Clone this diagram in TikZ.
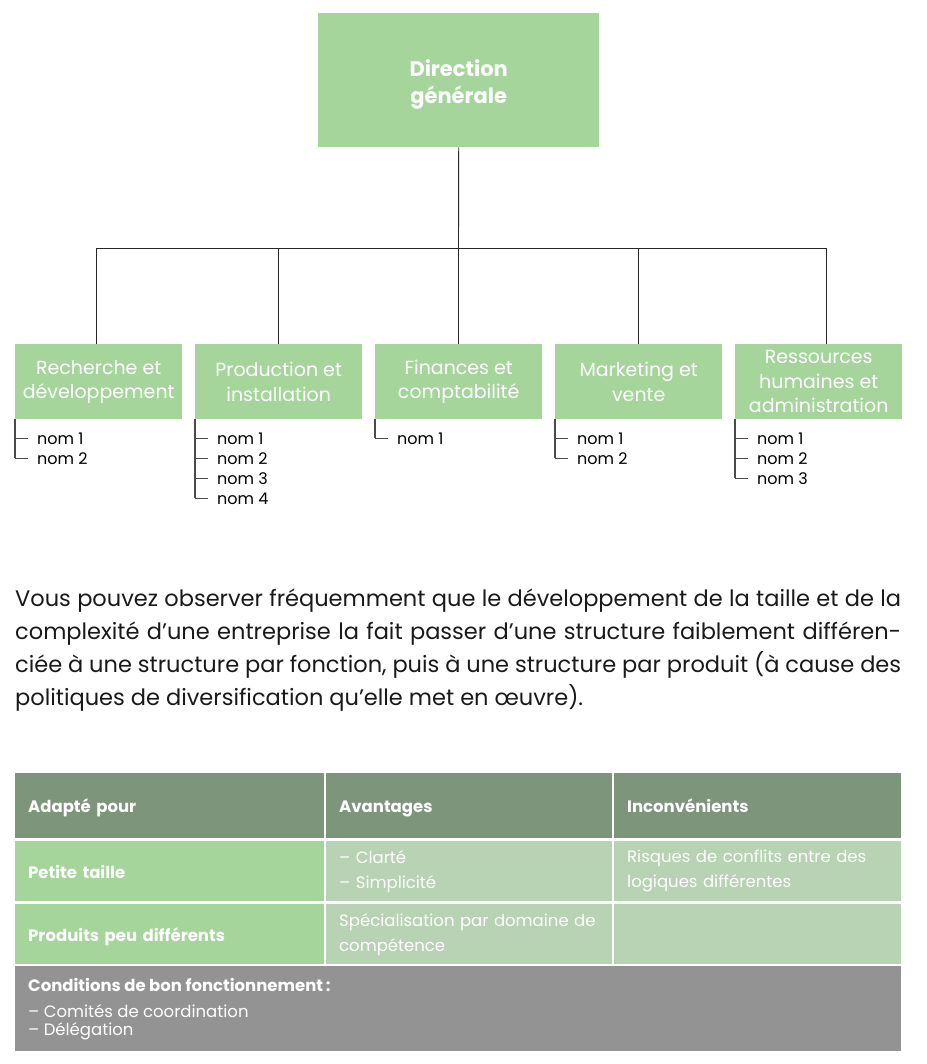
\documentclass[tikz,border=0pt]{standalone}
\usepackage{fontspec}
\usetikzlibrary{calc}
\setmainfont{Poppins}
\definecolor{boxgreen}{HTML}{A5D59B}
\definecolor{headgreen}{HTML}{7D967B}
\definecolor{lightgreen}{HTML}{B8D3B4}
\definecolor{condgray}{HTML}{939393}
\definecolor{linegray}{HTML}{4A4A4A}
\begin{document}
\begin{tikzpicture}[x=1pt,y=-1pt,
  orgbox/.style={fill=boxgreen,text=white,align=center,inner sep=0pt,
    minimum width=167pt,minimum height=75pt,anchor=north west,
    font=\fontsize{19}{24.5}\selectfont},
  topbox/.style={fill=boxgreen,inner sep=0pt,
    minimum width=281pt,minimum height=134pt,anchor=north west},
  toptext/.style={text=white,align=center,inner sep=0pt,
    font=\fontsize{21}{27}\selectfont\bfseries},
  conn/.style={draw=black!85,line width=0.9pt},
  listline/.style={draw=linegray,line width=1.1pt},
  item/.style={anchor=west,inner sep=0pt,font=\fontsize{16}{20}\selectfont},
  cell/.style={anchor=north west,inner xsep=13pt,inner ysep=0pt,align=left,text=white,
    font=\fontsize{16.5}{25}\selectfont},
  bcell/.style={cell,font=\fontsize{16.5}{25}\selectfont\bfseries,text height=14pt,text depth=0pt},
  para/.style={anchor=base west,inner sep=0pt,font=\fontsize{22.5}{33}\selectfont,text=black!90}
]
\useasboundingbox (0,0) rectangle (926,1064);
% top
\node[topbox] (top) at (318,13) {};
\node[toptext] (toptxt) at ([yshift=-4pt]top.center) {Direction\\générale};
\coordinate (bus) at (458.5,248);
% children
\node[orgbox] (b1) at (15,344) {Recherche et\\développement};
\node[orgbox] (b2) at (195,344) {Production et\\installation};
\node[orgbox] (b3) at (375,344) {Finances et\\comptabilité};
\node[orgbox] (b4) at (555,344) {Marketing et\\vente};
\node[orgbox] (b5) at (735,344) {Ressources\\humaines et\\administration};
\draw[conn] (top.south) -- (bus);
\draw[conn] ([xshift=-2pt]b1.north) |- (bus);
\draw[conn] ([xshift=8pt]b5.north) |- (bus);
\draw[conn] (b2.north) -- (b2.north |- bus);
\draw[conn] (b3.north) -- (b3.north |- bus);
\draw[conn] (b4.north) -- (b4.north |- bus);
% lists
\foreach \b/\n in {1/2,2/4,3/1,4/2,5/3}{
  \foreach \i in {1,...,\n}{
    \node[item] (n\b\i) at ($(b\b.south west)+(22,19+20*\i-20)$) {nom~\i};
    \draw[listline] ([xshift=-22pt]n\b\i.west) -- ([xshift=-9pt]n\b\i.west);
  }
  \draw[listline] (b\b.south west) -- ([xshift=-22pt]n\b\n.west);
}
% paragraph
\node[para] (p1) at (15,606) {\makebox[886pt][s]{Vous pouvez observer fréquemment que le développement de la taille et de la}};
\node[para] (p2) at (15,639) {\makebox[886pt][s]{complexité d’une entreprise la fait passer d’une structure faiblement différen-}};
\node[para] (p3) at (15,672) {\makebox[886pt][s]{ciée à une structure par fonction, puis à une structure par produit (à cause des}};
\node[para] (p4) at (15,705) {politiques de diversification qu’elle met en œuvre).};
% table
\node[bcell,fill=headgreen,text width=283pt,minimum height=65pt] (h1) at (15,773) {Adapté pour};
\node[bcell,fill=headgreen,text width=260pt,minimum height=65pt] (h2) at (326,773) {Avantages};
\node[bcell,fill=headgreen,text width=261pt,minimum height=65pt] (h3) at (614,773) {Inconvénients};
\node[bcell,fill=boxgreen,text width=283pt,minimum height=60pt] (r11) at (15,841) {Petite taille};
\node[cell,fill=lightgreen,text width=260pt,minimum height=60pt] (r12) at (326,841) {– Clarté\\– Simplicité};
\node[cell,fill=lightgreen,text width=261pt,minimum height=60pt] (r13) at (614,841) {Risques de conflits entre des\\logiques différentes};
\node[bcell,fill=boxgreen,text width=283pt,minimum height=60pt] (r21) at (15,904) {Produits peu différents};
\node[cell,fill=lightgreen,text width=260pt,minimum height=60pt] (r22) at (326,904) {Spécialisation par domaine de\\compétence};
\node[cell,fill=lightgreen,text width=261pt,minimum height=60pt] (r23) at (614,904) {};
\node[anchor=north west,fill=condgray,inner sep=0pt,minimum width=886pt,minimum height=85pt] (cond) at (15,966) {};
\node[anchor=west,inner sep=0pt,text=white,font=\fontsize{16.5}{20}\selectfont\bfseries] (c1) at (28,985) {Conditions de bon fonctionnement\,:};
\node[anchor=west,inner sep=0pt,text=white,font=\fontsize{16.5}{20}\selectfont] (c2) at (28,1011) {– Comités de coordination};
\node[anchor=west,inner sep=0pt,text=white,font=\fontsize{16.5}{20}\selectfont] (c3) at (28,1031) {– Délégation};
\end{tikzpicture}
\end{document}
